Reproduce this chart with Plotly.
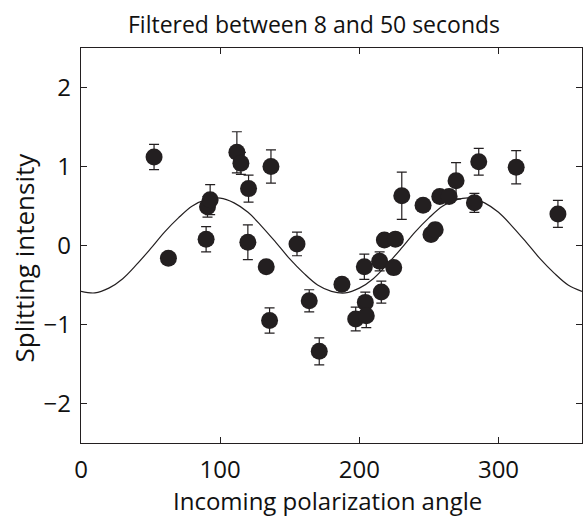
import plotly.graph_objects as go

# Observed splitting intensity measurements
angle = [52.5, 62.8, 89.9, 90.9, 92.8, 112.0, 114.9, 119.9, 120.4, 133.1, 135.5, 136.5,
         155.2, 164.0, 171.2, 187.5, 197.4, 203.6, 204.3, 205.0, 214.6, 215.8, 218.0,
         224.7, 225.9, 230.5, 245.8, 251.5, 254.5, 257.8, 264.5, 269.5, 282.7, 285.8,
         312.7, 342.7]
intensity = [1.12, -0.16, 0.08, 0.49, 0.58, 1.18, 1.04, 0.04, 0.72, -0.27, -0.95, 1.00,
             0.02, -0.70, -1.34, -0.49, -0.93, -0.27, -0.72, -0.89, -0.20, -0.59, 0.07,
             -0.28, 0.08, 0.63, 0.51, 0.14, 0.20, 0.62, 0.62, 0.82, 0.54, 1.06,
             0.99, 0.40]
error = [0.16, 0.05, 0.16, 0.13, 0.19, 0.26, 0.14, 0.22, 0.17, 0.05, 0.16, 0.21,
         0.15, 0.14, 0.17, 0.05, 0.15, 0.16, 0.13, 0.15, 0.12, 0.14, 0.08,
         0.08, 0.08, 0.30, 0.06, 0.08, 0.08, 0.06, 0.06, 0.23, 0.12, 0.17,
         0.21, 0.17]

# Fitted curve, every 10 degrees
curve_angle = list(range(0, 361, 10))
curve_value = [-0.58, -0.60, -0.54, -0.42, -0.24, -0.04, 0.17, 0.35, 0.50, 0.58,
               0.60, 0.54, 0.42, 0.24, 0.04, -0.17, -0.35, -0.50, -0.58, -0.60,
               -0.54, -0.42, -0.24, -0.04, 0.17, 0.35, 0.50, 0.58, 0.60, 0.54,
               0.42, 0.24, 0.04, -0.17, -0.35, -0.50, -0.58]

x_ticks = [0, 100, 200, 300]
y_ticks = [-2, -1, 0, 1, 2]

FONT = "Open Sans"
INK = "#231f20"
TEXT = "#111111"

fig = go.Figure()
fig.add_trace(go.Scatter(
    x=curve_angle, y=curve_value, mode="lines",
    line=dict(color=INK, width=1.2, shape="spline", smoothing=1.0),
    hoverinfo="skip", showlegend=False))
fig.add_trace(go.Scatter(
    x=angle, y=intensity, mode="markers",
    marker=dict(size=17, color=INK),
    error_y=dict(type="data", array=error, visible=True, color=INK,
                 thickness=1.2, width=5),
    showlegend=False))

axis_common = dict(showline=True, linecolor=INK, linewidth=1.3, mirror="ticks",
                   ticks="inside", ticklen=6, tickwidth=1, tickcolor=INK,
                   showgrid=False, zeroline=False,
                   tickfont=dict(family=FONT, size=24, color=TEXT))

fig.update_layout(
    width=584, height=519,
    margin=dict(l=81, r=2, t=48, b=76),
    paper_bgcolor="white", plot_bgcolor="white",
    title=dict(text="Filtered between 8 and 50 seconds",
               font=dict(family=FONT, size=23, color=TEXT),
               x=314 / 584, xanchor="center", xref="container",
               y=1 - 25 / 519, yanchor="middle", yref="container"),
    xaxis=dict(range=[0, 360], tickvals=x_ticks, ticklabelstandoff=5, **axis_common),
    yaxis=dict(range=[-2.5, 2.5], tickvals=y_ticks, ticklabelstandoff=4, **axis_common),
    annotations=[
        dict(text="Incoming polarization angle", xref="paper", yref="paper",
             x=(327 - 81) / 501, y=(443 - 501) / 395, xanchor="center", yanchor="middle",
             showarrow=False, font=dict(family=FONT, size=24, color=TEXT)),
        dict(text="Splitting intensity", xref="paper", yref="paper", textangle=-90,
             x=(23.5 - 81) / 501, y=(443 - 258) / 395, xanchor="center", yanchor="middle",
             showarrow=False, font=dict(family=FONT, size=26, color=TEXT)),
    ],
)

fig.write_html("out.html")
